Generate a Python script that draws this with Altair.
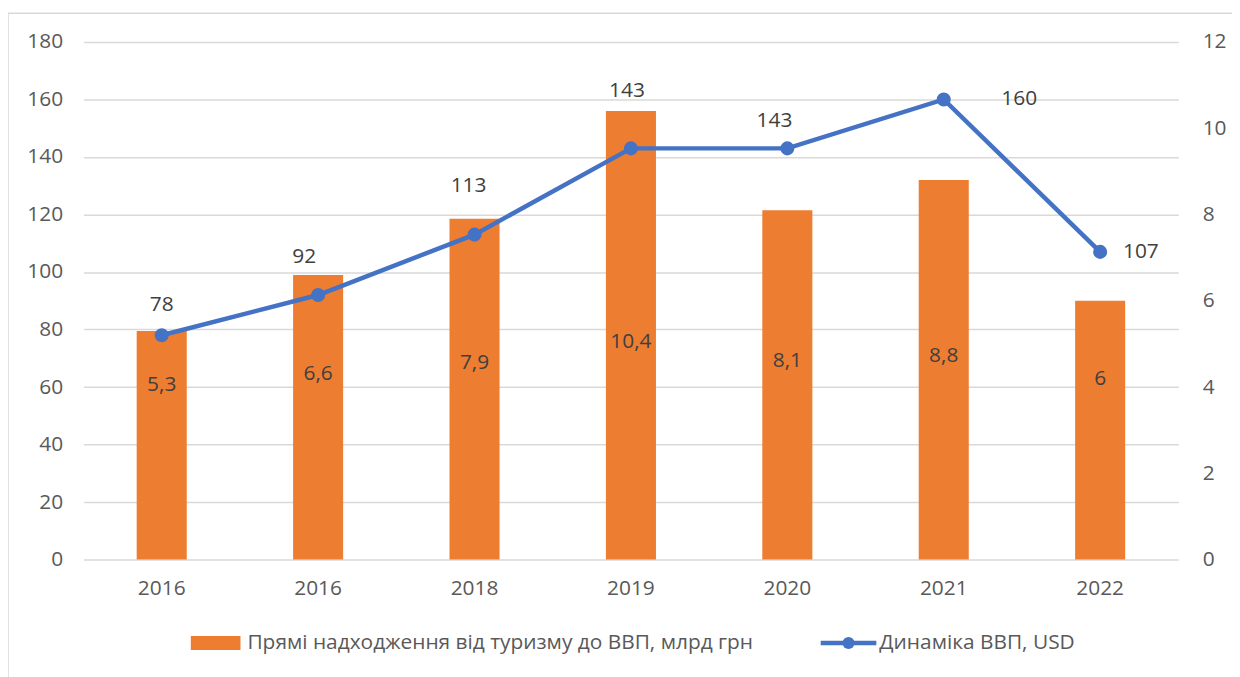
import json
import altair as alt
import pandas as pd

# ---- data ----
years = ["2016", "2016", "2018", "2019", "2020", "2021", "2022"]
tourism = [5.3, 6.6, 7.9, 10.4, 8.1, 8.8, 6]
gdp = [78, 92, 113, 143, 143, 160, 107]
series_names = ["Прямі надходження від туризму до ВВП, млрд грн", "Динаміка ВВП, USD"]
left_ticks = [0, 20, 40, 60, 80, 100, 120, 140, 160, 180]
right_ticks = [0, 2, 4, 6, 8, 10, 12]

# ---- style ----
FONT = "Open Sans"
FS = 21
AXIS_COL = "#595959"
LABEL_COL = "#404040"
ORANGE = "#ED7D31"
BLUE = "#4472C4"
GRID = "#D9D9D9"
W, H = 1102, 521
PAD = {"left": 76, "top": 32, "right": 54, "bottom": 116}
# per-point label offsets (dx, dy, align) for the line labels
label_offsets = [(0, -30, "center"), (-14, -38, "center"), (-6, -49, "center"),
                 (-4, -58, "center"), (-13, -28, "center"), (58, 0, "left"), (23, 0, "left")]

df = pd.DataFrame({"pos": list(range(len(years))), "year": years,
                   "tourism": tourism, "gdp": gdp})

x_enc = alt.X(
    "pos:O",
    scale=alt.Scale(paddingInner=0.68, paddingOuter=0.34),
    axis=alt.Axis(title=None, labelExpr=f"{json.dumps(years)}[datum.value]",
                  labelAngle=0, domain=False, ticks=False, labelPadding=18,
                  labelFontSize=FS, labelColor=AXIS_COL, labelFont=FONT),
)

right_scale = alt.Scale(domain=[0, 12], nice=False)
left_scale = alt.Scale(domain=[0, 180], nice=False)

bars = alt.Chart(df).mark_bar(color=ORANGE).encode(
    x=x_enc,
    y=alt.Y("tourism:Q", scale=right_scale,
            axis=alt.Axis(orient="right", values=right_ticks, title=None, grid=False,
                          domain=False, ticks=False, labelPadding=24, labelFontSize=FS,
                          labelColor=AXIS_COL, labelFont=FONT)),
)

bar_labels = alt.Chart(df).transform_calculate(
    lbl="replace(toString(datum.tourism), '.', ',')",
    ly="3.02 + 0.194 * datum.tourism",
).mark_text(font=FONT, fontSize=FS, color=LABEL_COL, baseline="middle").encode(
    x=alt.X("pos:O"),
    y=alt.Y("ly:Q", scale=right_scale),
    text="lbl:N",
)

bar_group = alt.layer(bars, bar_labels)

line = alt.Chart(df).mark_line(color=BLUE, strokeWidth=4.5).encode(
    x=alt.X("pos:O"),
    y=alt.Y("gdp:Q", scale=left_scale,
            axis=alt.Axis(orient="left", values=left_ticks, title=None, grid=True,
                          gridColor=GRID, gridWidth=1.5, domain=False, ticks=False,
                          labelPadding=21, labelFontSize=FS, labelColor=AXIS_COL,
                          labelFont=FONT)),
)
points = alt.Chart(df).mark_point(filled=True, size=200, color=BLUE, opacity=1).encode(
    x=alt.X("pos:O"),
    y=alt.Y("gdp:Q", scale=left_scale),
)

line_layers = [line, points]
for i, (dx, dy, al) in enumerate(label_offsets):
    line_layers.append(
        alt.Chart(df).transform_filter(f"datum.pos == {i}").mark_text(
            font=FONT, fontSize=FS, color=LABEL_COL, dx=dx, dy=dy, align=al,
            baseline="middle",
        ).encode(x=alt.X("pos:O"), y=alt.Y("gdp:Q", scale=left_scale), text="gdp:Q")
    )
line_group = alt.layer(*line_layers)

# ---- legend (manual) ----
leg_df = pd.DataFrame({"name": series_names})
leg_y = 605
leg_bar = alt.Chart(leg_df).transform_filter("datum.name == '%s'" % series_names[0]).mark_rect(
    color=ORANGE).encode(x=alt.value(108), x2=alt.value(158), y=alt.value(leg_y - 7),
                         y2=alt.value(leg_y + 7))
leg_bar_txt = alt.Chart(leg_df).transform_filter("datum.name == '%s'" % series_names[0]).mark_text(
    font=FONT, fontSize=FS, color=AXIS_COL, align="left", baseline="middle").encode(
    x=alt.value(165), y=alt.value(leg_y), text="name:N")
leg_line = alt.Chart(leg_df).transform_filter("datum.name == '%s'" % series_names[1]).mark_rule(
    color=BLUE, strokeWidth=4.5).encode(x=alt.value(742), x2=alt.value(798), y=alt.value(leg_y))
leg_pt = alt.Chart(leg_df).transform_filter("datum.name == '%s'" % series_names[1]).mark_point(
    filled=True, size=150, color=BLUE, opacity=1).encode(x=alt.value(770), y=alt.value(leg_y))
leg_line_txt = alt.Chart(leg_df).transform_filter("datum.name == '%s'" % series_names[1]).mark_text(
    font=FONT, fontSize=FS, color=AXIS_COL, align="left", baseline="middle").encode(
    x=alt.value(801), y=alt.value(leg_y), text="name:N")

border = alt.Chart(pd.DataFrame({"a": [0]})).mark_rect(
    fill="transparent", stroke=GRID, strokeWidth=1.5).encode(
    x=alt.value(-76), y=alt.value(-29), x2=alt.value(W + 80), y2=alt.value(H + 140))

chart = alt.layer(
    border, bar_group, line_group, leg_bar, leg_bar_txt, leg_line, leg_pt, leg_line_txt
).resolve_scale(y="independent").properties(
    width=W, height=H, autosize=alt.AutoSizeParams(type="none"), padding=PAD,
    background="white",
).configure_view(stroke=None)

chart.save("out.html", embed_options={"renderer": "svg", "actions": False})
